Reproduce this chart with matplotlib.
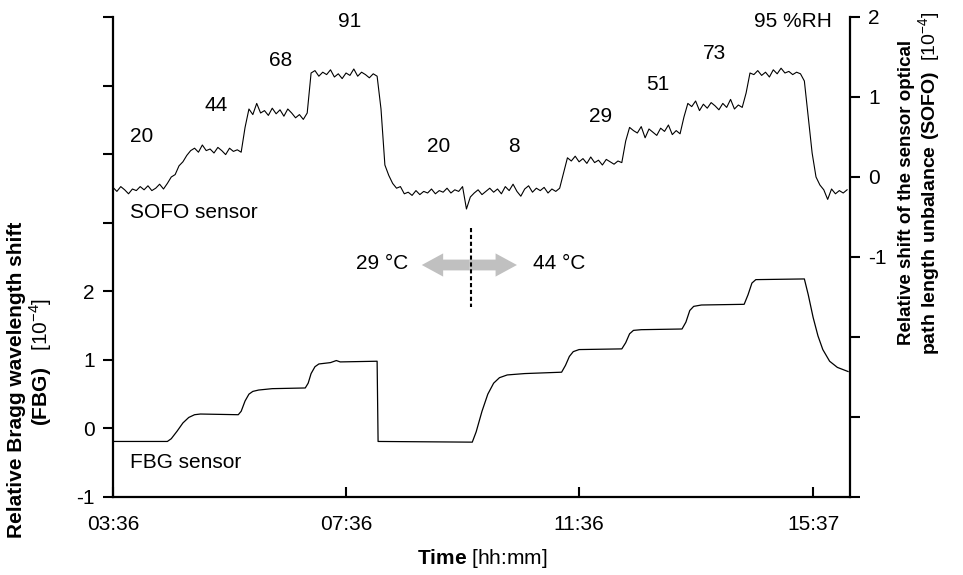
import numpy as np
import matplotlib
matplotlib.use("Agg")
import matplotlib.pyplot as plt
from matplotlib.patches import FancyArrow
from matplotlib.ticker import FixedLocator, FixedFormatter

plt.rcParams['font.family'] = ['Liberation Sans', 'DejaVu Sans']
plt.rcParams['mathtext.fontset'] = 'custom'
plt.rcParams['mathtext.rm'] = 'Liberation Sans'
plt.rcParams['mathtext.bf'] = 'Liberation Sans:bold'

# ---- data (time in minutes after midnight) ----
sofo_start_min = 216          # 03:36
sofo_step_min = 4
sofo_values = [
    # 20 %RH
    -0.13, -0.18, -0.12, -0.16, -0.21, -0.15, -0.17, -0.12, -0.16, -0.11, -0.17, -0.14, -0.09, -0.15,
    -0.08, 0.00, 0.03, 0.14, 0.19, 0.27, 0.33,
    # 44 %RH
    0.36, 0.31, 0.40, 0.33, 0.35, 0.30, 0.37, 0.33, 0.28, 0.36, 0.32, 0.34, 0.31,
    0.62,
    # 68 %RH
    0.85, 0.78, 0.92, 0.80, 0.83, 0.77, 0.86, 0.79, 0.84, 0.76, 0.85, 0.80, 0.74, 0.78, 0.72, 0.80,
    1.30,
    # 91 %RH
    1.33, 1.26, 1.31, 1.28, 1.34, 1.25, 1.29, 1.23, 1.30, 1.27, 1.35, 1.26, 1.31, 1.28, 1.24, 1.29, 1.26,
    0.85, 0.15, 0.02, -0.08, -0.14, -0.12, -0.21,
    # 20 %RH
    -0.19, -0.23, -0.17, -0.22, -0.18, -0.20, -0.15, -0.21, -0.17, -0.19, -0.14, -0.20, -0.16, -0.18, -0.12,
    -0.40, -0.25,
    # 8 %RH
    -0.20, -0.16, -0.22, -0.18, -0.14, -0.19, -0.15, -0.21, -0.12, -0.17, -0.09, -0.18, -0.24, -0.15,
    -0.11, -0.19, -0.14, -0.17, -0.13, -0.20, -0.15, -0.18, -0.14,
    0.05, 0.24,
    # 29 %RH
    0.20, 0.26, 0.19, 0.23, 0.17, 0.25, 0.18, 0.21, 0.15, 0.22, 0.19, 0.16, 0.20, 0.18,
    0.45, 0.62,
    # 51 %RH
    0.58, 0.55, 0.63, 0.49, 0.60, 0.56, 0.52, 0.61, 0.57, 0.65, 0.53, 0.58, 0.54,
    0.75, 0.92,
    # 73 %RH
    0.88, 0.95, 0.83, 0.91, 0.86, 0.93, 0.89, 0.84, 0.92, 0.87, 0.97, 0.85, 0.90, 0.87,
    1.05, 1.30,
    # 95 %RH
    1.28, 1.33, 1.27, 1.31, 1.25, 1.34, 1.29, 1.36, 1.30, 1.32, 1.28, 1.31, 1.29,
    1.20, 0.75, 0.30, 0.00, -0.10, -0.16, -0.28,
    -0.15, -0.21, -0.17, -0.20, -0.16,
]
sofo_time = sofo_start_min + sofo_step_min * np.arange(len(sofo_values))

fbg_time = [216, 272, 276, 282, 288, 294, 300, 306, 345,
            348, 352, 356, 360, 366, 380, 414,
            417, 420, 424, 428, 440, 446, 450, 488,
            489, 586,
            590, 596, 602, 608, 614, 622, 640, 678,
            682, 686, 690, 696, 740,
            744, 748, 752, 760, 802,
            806, 810, 814, 822, 866,
            870, 874, 878, 928,
            932, 937, 942, 947, 954, 962, 973]
fbg_values = [-0.19, -0.19, -0.15, -0.04, 0.08, 0.16, 0.20, 0.21, 0.20,
              0.25, 0.40, 0.50, 0.54, 0.56, 0.58, 0.59,
              0.66, 0.80, 0.90, 0.94, 0.96, 0.99, 0.97, 0.98,
              -0.19, -0.20,
              -0.05, 0.25, 0.50, 0.66, 0.74, 0.78, 0.80, 0.82,
              0.92, 1.05, 1.12, 1.15, 1.16,
              1.25, 1.38, 1.43, 1.44, 1.45,
              1.55, 1.72, 1.78, 1.80, 1.81,
              1.95, 2.12, 2.17, 2.18,
              1.95, 1.62, 1.35, 1.15, 0.98, 0.89, 0.83]

rh_labels = ['20', '44', '68', '91', '20', '8', '29', '51', '73', '95 %RH']
rh_label_time = [245, 322, 389, 460, 551, 629, 718, 777, 835, 916]
rh_label_level = [0.50, 0.89, 1.45, 1.94, 0.375, 0.375, 0.76, 1.15, 1.54, 1.94]

x_ticks = [216, 456, 696, 937]
x_ticklabels = ['03:36', '07:36', '11:36', '15:37']

fbg_ticks = [-1, 0, 1, 2, 3, 4, 5, 6]
fbg_ticklabels = ['-1', '0', '1', '2', '', '', '', '']
sofo_ticks = [-4, -3, -2, -1, 0, 1, 2]
sofo_ticklabels = ['', '', '', '-1', '0', '1', '2']

temp_left = '29 °C'
temp_right = '44 °C'

# ---- figure ----
fig = plt.figure(figsize=(9.63, 5.75), dpi=100)
ax = fig.add_axes([113 / 963, 1 - 497 / 575, 737 / 963, 480 / 575])
ax2 = ax.twinx()

FS = 15
ax.plot(fbg_time, fbg_values, color='black', lw=0.9)
ax2.plot(sofo_time, sofo_values, color='black', lw=0.8)

ax.set_xlim(216, 975)
ax.set_ylim(-1, 6)
ax2.set_ylim(-4, 2)

for a in (ax, ax2):
    a.spines['top'].set_visible(False)
    for s in a.spines.values():
        s.set_linewidth(1.6)
ax.spines['right'].set_visible(False)
ax2.spines['left'].set_visible(False)
ax2.spines['bottom'].set_visible(False)

ax.xaxis.set_major_locator(FixedLocator(x_ticks))
ax.xaxis.set_major_formatter(FixedFormatter(x_ticklabels))
ax.tick_params(axis='x', direction='in', length=7, width=1.5, pad=13, labelsize=FS)

ax.yaxis.set_major_locator(FixedLocator(fbg_ticks))
ax.yaxis.set_major_formatter(FixedFormatter(fbg_ticklabels))
ax.tick_params(axis='y', direction='out', length=7, width=1.5, pad=6, labelsize=FS)

ax2.yaxis.set_major_locator(FixedLocator(sofo_ticks))
ax2.yaxis.set_major_formatter(FixedFormatter(sofo_ticklabels))
ax2.tick_params(axis='y', direction='out', length=7, width=1.5, pad=6, labelsize=FS)

# axis titles
fig.text(482 / 963, 1 - 558 / 575, r'$\mathbf{Time}$ [hh:mm]', ha='center', va='center', fontsize=FS)
fig.text(17 / 963, 1 - 380 / 575, 'Relative Bragg wavelength shift', rotation=90,
         ha='center', va='center', fontsize=15, fontweight='bold')
fig.text(41 / 963, 1 - 362 / 575, r'$\mathbf{(FBG)}$   [10$^{-4}$]', rotation=90,
         ha='center', va='center', fontsize=15)
fig.text(906 / 963, 1 - 192 / 575, 'Relative shift of the sensor optical', rotation=90,
         ha='center', va='center', fontsize=13.5, fontweight='bold')
fig.text(930 / 963, 1 - 183 / 575, r'$\mathbf{path\ length\ unbalance\ (SOFO)}$  [10$^{-4}$]',
         rotation=90, ha='center', va='center', fontsize=14)

# humidity steps
for lab, t, v in zip(rh_labels, rh_label_time, rh_label_level):
    ax2.text(t, v, lab, ha='center', va='center', fontsize=FS)

ax2.text(233, -0.44, 'SOFO sensor', ha='left', va='center', fontsize=FS)
ax2.text(233, -3.57, 'FBG sensor', ha='left', va='center', fontsize=FS)

# temperature change marker
ax2.plot([585, 585], [-0.64, -1.63], color='black', lw=1.5, ls=(0, (2, 1.3)))
arrow_kw = dict(width=0.135, head_width=0.29, head_length=22, length_includes_head=True,
                color='#c0c0c0', lw=0)
ax2.add_patch(FancyArrow(583, -1.1, 534 - 583, 0, **arrow_kw))
ax2.add_patch(FancyArrow(583, -1.1, 632 - 583, 0, **arrow_kw))
ax2.text(493, -1.08, temp_left, ha='center', va='center', fontsize=FS)
ax2.text(675, -1.08, temp_right, ha='center', va='center', fontsize=FS)

fig.savefig('out.png', dpi=100)
